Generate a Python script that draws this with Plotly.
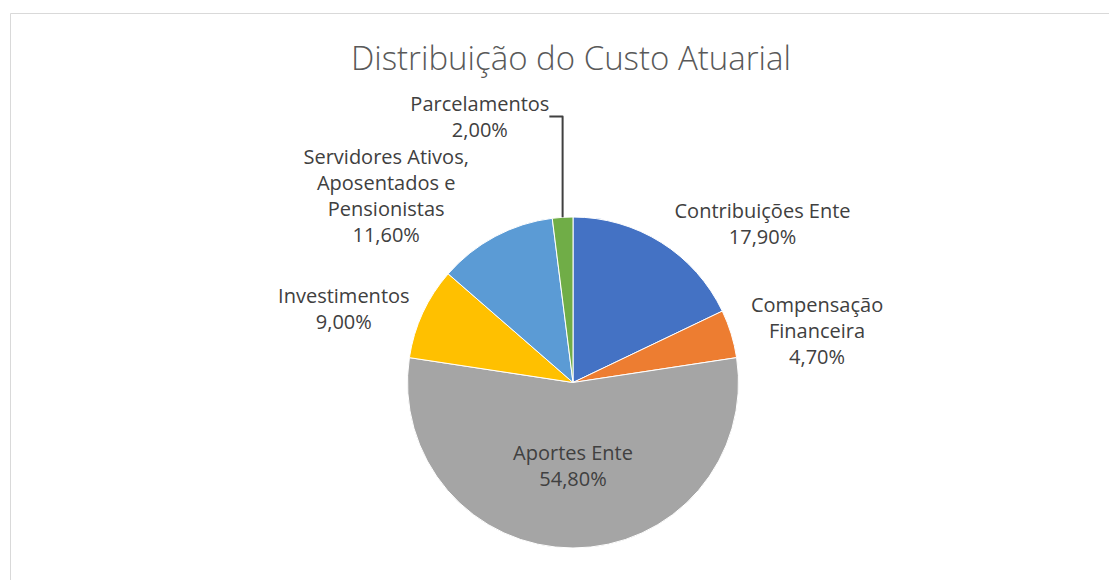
import plotly.graph_objects as go

# Data
categories = [
    "Contribuições Ente",
    "Compensação<br>Financeira",
    "Aportes Ente",
    "Investimentos",
    "Servidores Ativos,<br>Aposentados e<br>Pensionistas",
    "Parcelamentos",
]
values = [17.9, 4.7, 54.8, 9.0, 11.6, 2.0]
colors = ["#4472C4", "#ED7D31", "#A5A5A5", "#FFC000", "#5B9BD5", "#70AD47"]
text_positions = ["outside", "outside", "inside", "outside", "outside", "outside"]
title_text = "Distribuição do Custo Atuarial"

W, H = 1117, 580
OFF = 8  # page body margin in the browser


def px_x(p):
    return (p - OFF) / W


def px_y(p):
    return 1 - (p - OFF) / H


fig = go.Figure(
    go.Pie(
        labels=categories,
        values=values,
        sort=False,
        direction="clockwise",
        rotation=0,
        marker=dict(colors=colors, line=dict(color="white", width=1)),
        texttemplate="%{label}<br>%{percent:.2%}",
        textposition=text_positions,
        textfont=dict(family="Open Sans", size=20, color="#404040"),
        insidetextorientation="horizontal",
        hoverinfo="label+percent",
        showlegend=False,
        automargin=False,
        domain=dict(x=[px_x(573) - 0.21, px_x(573) + 0.21], y=[px_y(548), px_y(217)]),
    )
)

fig.update_layout(
    width=W,
    height=H,
    margin=dict(l=0, r=0, t=0, b=0, autoexpand=False),
    separators=",.",
    paper_bgcolor="white",
    plot_bgcolor="white",
    title=dict(
        text=title_text,
        x=px_x(571),
        xanchor="center",
        y=px_y(58),
        yanchor="middle",
        font=dict(family="Open Sans", size=33, color="#595959", weight=300),
    ),
    shapes=[
        dict(
            type="rect",
            xref="paper",
            yref="paper",
            x0=px_x(10.5),
            x1=1.05,
            y0=-0.05,
            y1=px_y(13.5),
            line=dict(color="#D9D9D9", width=1),
            fillcolor="rgba(0,0,0,0)",
            layer="below",
        )
    ],
)

fig.write_html("out.html")
